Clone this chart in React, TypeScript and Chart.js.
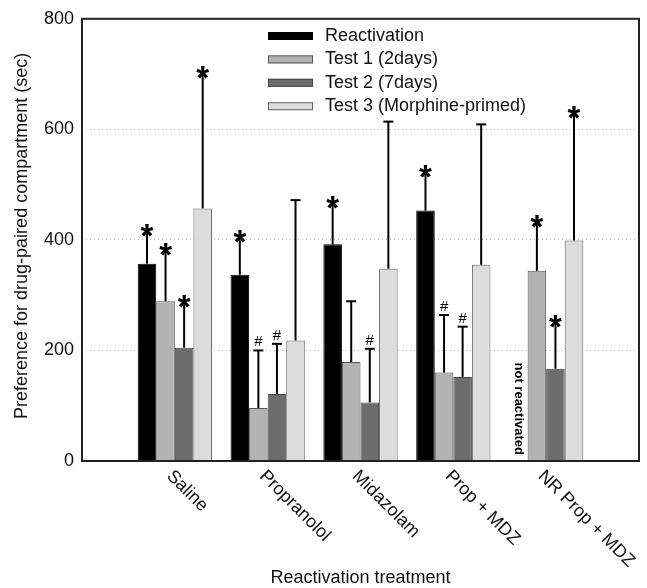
import React, { useEffect, useRef } from "react";
import { Chart, registerables } from "chart.js";

Chart.register(...registerables);

const categories = ["Saline", "Propranolol", "Midazolam", "Prop + MDZ", "NR Prop + MDZ"];
const seriesNames = ["Reactivation", "Test 1 (2days)", "Test 2 (7days)", "Test 3 (Morphine-primed)"];

const reactivation = [357, 337, 392, 453, null];
const test1 = [289, 96, 179, 160, 344];
const test2 = [205, 121, 106, 152, 167];
const test3 = [457, 218, 348, 355, 399];

const reactivationErr = [60, 69, 74, 69, null];
const test1Err = [92, 104, 110, 104, 89];
const test2Err = [82, 91, 97, 91, 84];
const test3Err = [245, 254, 266, 254, 231];

const reactivationMarks = ["*", "*", "*", "*", ""];
const test1Marks = ["*", "#", "", "#", "*"];
const test2Marks = ["*", "#", "#", "#", "*"];
const test3Marks = ["*", "", "", "", "*"];

const yTicks = [0, 200, 400, 600, 800];
const yTitle = "Preference for drug-paired compartment (sec)";
const xTitle = "Reactivation treatment";
const notReactivatedText = "not reactivated";

const fillColors = ["#000000", "#b3b3b3", "#6d6d6d", "#dcdcdc"];
const borderColors = ["#000000", "#555555", "#444444", "#666666"];

const FONT = "'Liberation Sans', Arial, Helvetica, sans-serif";

const pad = (arr: (number | null)[]) => [null, ...arr, null];

export default function App() {
  const ref = useRef<HTMLCanvasElement | null>(null);

  useEffect(() => {
    const canvas = ref.current;
    if (!canvas) return;
    const values = [reactivation, test1, test2, test3];
    const errs = [reactivationErr, test1Err, test2Err, test3Err];
    const marks = [reactivationMarks, test1Marks, test2Marks, test3Marks];

    const overlay = {
      id: "overlay",
      afterDatasetsDraw(chart: any) {
        const ctx = chart.ctx;
        const ys = chart.scales.y;
        const xs = chart.scales.x;
        const area = chart.chartArea;
        ctx.save();
        // error bars + symbols
        values.forEach((_, di) => {
          const meta = chart.getDatasetMeta(di);
          meta.data.forEach((el: any, idx: number) => {
            const ci = idx - 1;
            if (ci < 0 || ci >= categories.length) return;
            const v = values[di][ci];
            const e = errs[di][ci];
            if (v == null || e == null) return;
            const x = el.x;
            const y0 = ys.getPixelForValue(v);
            const y1 = ys.getPixelForValue(v + e);
            ctx.strokeStyle = "#000";
            ctx.lineWidth = 2;
            ctx.beginPath();
            ctx.moveTo(x, y0);
            ctx.lineTo(x, y1);
            ctx.stroke();
            const m = marks[di][ci];
            if (m !== "*") {
              ctx.beginPath();
              ctx.moveTo(x - 5, y1);
              ctx.lineTo(x + 5, y1);
              ctx.stroke();
            }
            ctx.fillStyle = "#000";
            ctx.textAlign = "center";
            ctx.textBaseline = "alphabetic";
            if (m === "*") {
              ctx.font = `bold 33px ${FONT}`;
              ctx.fillText("*", x, y1 + 16);
            } else if (m === "#") {
              ctx.font = `15px ${FONT}`;
              ctx.fillText("#", x, y1 - 4);
            }
          });
        });
        // not reactivated text in the empty slot
        const m1 = chart.getDatasetMeta(1).data[categories.length];
        if (m1) {
          const x = m1.x - (m1.width || 18.6);
          ctx.save();
          ctx.translate(x, area.bottom - 6);
          ctx.rotate(Math.PI / 2);
          ctx.font = `bold 13px ${FONT}`;
          ctx.textAlign = "right";
          ctx.textBaseline = "middle";
          ctx.fillStyle = "#000";
          ctx.fillText(notReactivatedText, 0, 0);
          ctx.restore();
        }
        // frame
        ctx.strokeStyle = "#222";
        ctx.lineWidth = 2;
        ctx.strokeRect(area.left, area.top, area.right - area.left, area.bottom - area.top);
        // x tick labels rotated
        ctx.font = `18px ${FONT}`;
        ctx.fillStyle = "#111";
        ctx.textAlign = "left";
        ctx.textBaseline = "top";
        categories.forEach((c, i) => {
          const px = xs.getPixelForValue(i + 1);
          ctx.save();
          ctx.translate(px + 1, area.bottom + 6);
          ctx.rotate(Math.PI / 4);
          ctx.fillText(c, 0, 0);
          ctx.restore();
        });
        // axis titles
        ctx.font = `18px ${FONT}`;
        ctx.textAlign = "center";
        ctx.textBaseline = "middle";
        ctx.fillText(xTitle, (area.left + area.right) / 2, 578);
        ctx.save();
        ctx.translate(22, (area.top + area.bottom) / 2 - 4);
        ctx.rotate(-Math.PI / 2);
        ctx.fillText(yTitle, 0, 0);
        ctx.restore();
        // legend
        const lx = 268;
        const ly0 = 36;
        const step = 23.4;
        seriesNames.forEach((name, i) => {
          const cy = ly0 + i * step;
          ctx.fillStyle = fillColors[i];
          ctx.fillRect(lx, cy - 4, 45, 8);
          ctx.strokeStyle = borderColors[i];
          ctx.lineWidth = 1;
          ctx.strokeRect(lx + 0.5, cy - 4 + 0.5, 44, 7);
          ctx.fillStyle = "#111";
          ctx.font = `18px ${FONT}`;
          ctx.textAlign = "left";
          ctx.textBaseline = "middle";
          ctx.fillText(name, lx + 57, cy);
        });
        ctx.restore();
      },
    };

    const chart = new Chart(canvas, {
      type: "bar",
      data: {
        labels: ["", ...categories, ""],
        datasets: seriesNames.map((name, i) => ({
          label: name,
          data: pad(values[i]) as any,
          backgroundColor: fillColors[i],
          borderColor: borderColors[i],
          borderWidth: 1,
          barPercentage: 1,
          categoryPercentage: 0.8,
        })),
      },
      options: {
        responsive: false,
        animation: false,
        layout: { padding: { top: 18, right: 8, left: 0, bottom: 0 } },
        plugins: { legend: { display: false }, tooltip: { enabled: false } },
        scales: {
          x: {
            offset: false,
            grid: { display: false, drawTicks: false },
            border: { display: false },
            ticks: { display: false },
            afterFit: (s: any) => {
              s.height = 127;
            },
          },
          y: {
            min: 0,
            max: 800,
            afterBuildTicks: (s: any) => {
              s.ticks = yTicks.map((v) => ({ value: v }));
            },
            ticks: {
              font: { family: FONT, size: 18 },
              color: "#111",
              padding: 8,
            },
            grid: { drawTicks: false, color: "#bbbbbb", lineWidth: 1 },
            border: { display: false, dash: [1, 3] },
            afterFit: (s: any) => {
              s.width = 82;
            },
          },
        },
      },
      plugins: [overlay],
    });
    return () => chart.destroy();
  }, []);

  return (
    <div style={{ position: "fixed", left: 0, top: 0, width: 647, height: 588, background: "#fff" }}>
      <canvas ref={ref} width={647} height={588} />
    </div>
  );
}
